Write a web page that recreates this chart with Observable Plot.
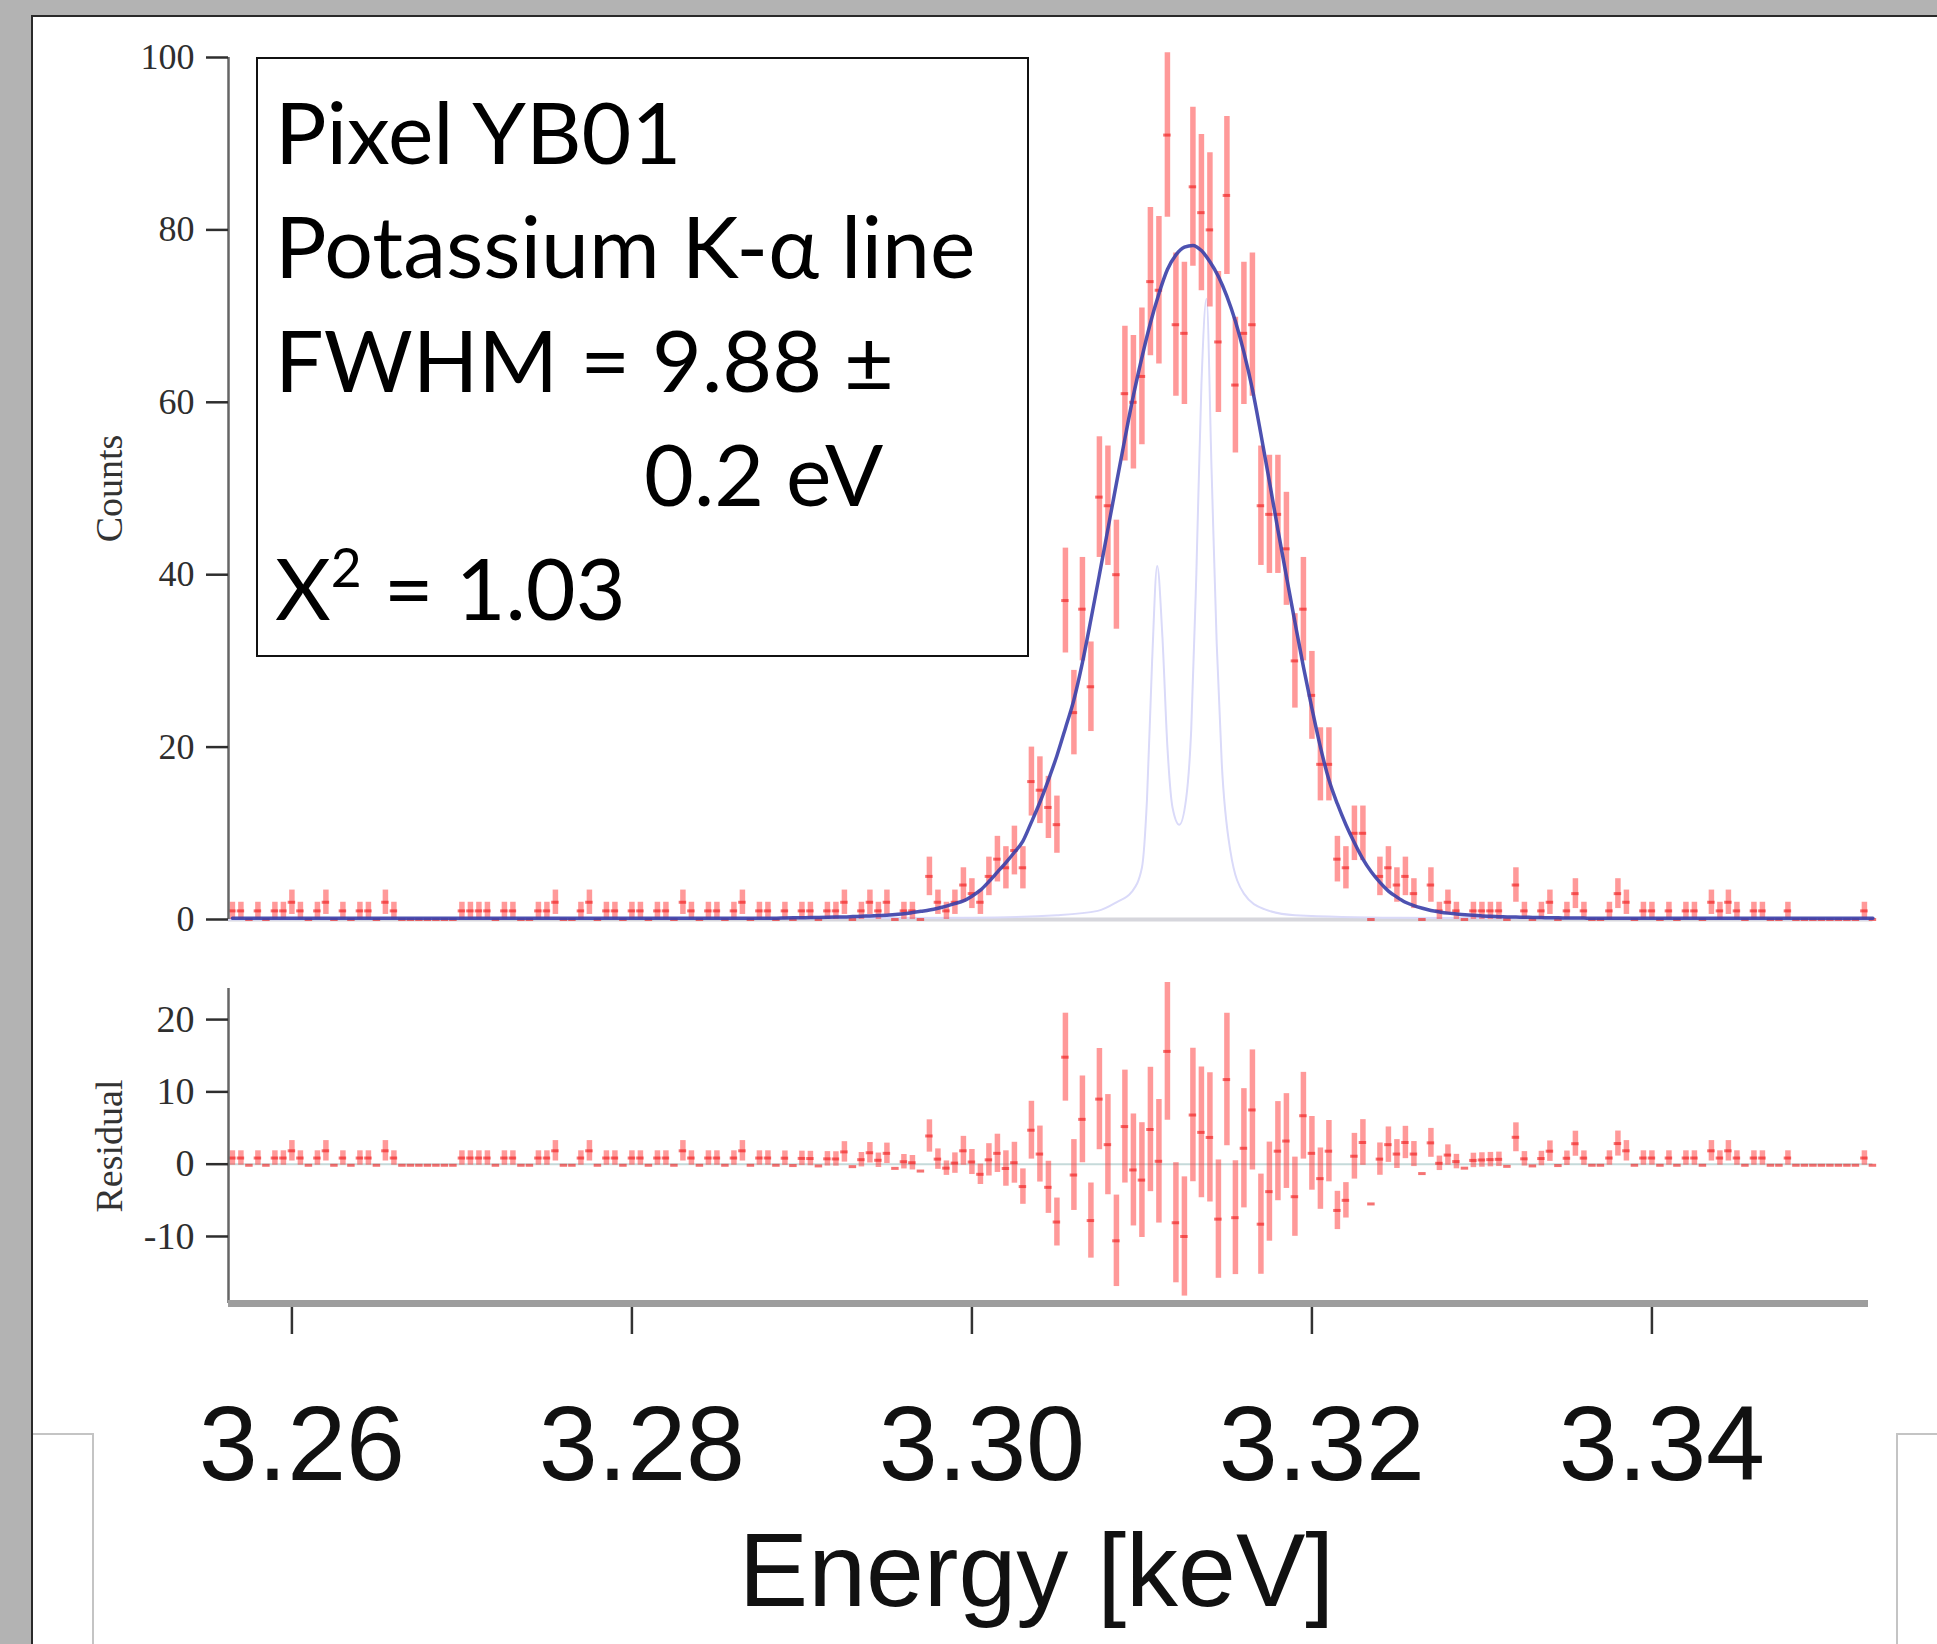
<!DOCTYPE html>
<html>
<head>
<meta charset="utf-8">
<script src="https://cdn.jsdelivr.net/npm/d3@7"></script>
<script src="https://cdn.jsdelivr.net/npm/@observablehq/plot@0.6"></script>
<style>
  html, body { margin: 0; padding: 0; }
  body { width: 1937px; height: 1644px; background: #b3b3b3; position: relative; overflow: hidden; }
  #panel { position: absolute; left: 31px; top: 15px; right: 0; bottom: 0; background: #fff;
           border-left: 2px solid #2a2a2a; border-top: 2px solid #2a2a2a; }
  .ol1 { position: absolute; left: 33px; top: 1433px; width: 59px; height: 300px;
         border-top: 2px solid #c4c4c4; border-right: 2px solid #c4c4c4; }
  .ol2 { position: absolute; left: 1896px; top: 1433px; width: 100px; height: 300px;
         border-top: 2px solid #c4c4c4; border-left: 2px solid #c4c4c4; }
  #topChart, #bottomChart { position: absolute; left: 0; }
  #topChart { top: 0; }
  #bottomChart { top: 940px; }
  #box { position: absolute; left: 256px; top: 57px; width: 773px; height: 600px; box-sizing: border-box;
         border: 2px solid #111; background: #fff; color: #000;
         font-family: Lato, "Open Sans", sans-serif; font-size: 86px; line-height: 114px;
         padding: 14.5px 0 0 17px; white-space: nowrap; }
  #box .indent { padding-left: 369px; }
  #box sup { font-size: 0.62em; line-height: 0; vertical-align: 0.62em; }
</style>
</head>
<body>
<div id="panel"></div>
<div class="ol1"></div>
<div class="ol2"></div>
<div id="topChart"></div>
<div id="bottomChart"></div>
<div id="box">
  <div>Pixel YB01</div>
  <div>Potassium K-α line</div>
  <div>FWHM = 9.88 ±</div>
  <div class="indent">0.2 eV</div>
  <div>X<sup>2</sup> = 1.03</div>
</div>
<script>
// ---- data ----
const binStart = 3.2565;   // keV, centre of first bin
const binWidth = 0.0005;   // keV (0.5 eV bins)

const counts = [
  1,1,0,1,0,1,1,2,1,0, 1,2,0,1,0,1,1,0,2,1, 0,0,0,0,0,0,0,1,1,1, 1,0,1,1,0,0,1,1,2,0,
  0,1,2,0,1,1,0,1,1,0,
  1,1,0,2,1,0,1,1,0,1, 2,0,1,1,0,1,0,1,1,0, 1,1,2,0,1,2,1,2,0,
  1,1,0,5,2,1,2,4,3,2, 5,7,6,8,6,16,15,13,11,37, 24,36,27,49,48,40,61,60,63,74,
  73,91,69,68,85,82,80,67,84,62, 68,69,48,47,47,43,30,36,26,18, 18,7,6,10,10,0,
  5,6,4,5,3,0,4,1,2,1, 0,1,1,1,1,0,4,1,0,1, 2,0,1,3,1,0,0,1,3,2, 0,1,1,0,1,0,1,1,0,2,
  1,2,1,0,1,1,0,0,1,0, 0,0,0,0,0,0,0,1,0
];

const fit = [
  0.15,0.15,0.15,0.15,0.15,0.15,0.15,0.15,0.15,0.15, 0.15,0.15,0.15,0.15,0.15,0.15,0.15,0.15,0.15,0.15,
  0.15,0.15,0.15,0.15,0.15,0.15,0.15,0.15,0.15,0.15, 0.15,0.15,0.15,0.15,0.15,0.15,0.15,0.15,0.15,0.15,
  0.15,0.15,0.15,0.15,0.15,0.15,0.15,0.15,0.15,0.15, 0.15,0.15,0.15,0.15,0.15,0.15,0.15,0.15,0.15,0.15,
  0.15,0.15,0.15,0.15,
  0.15,0.17,0.19,0.2,0.22,0.24,0.26,0.28,0.3,0.34, 0.38,0.42,0.46,0.5,0.58,0.66,0.8,0.95,1.1,1.3,
  1.55,1.85,2.15,2.7,3.4,4.4,5.5,6.6,7.8,9.1, 11.3,13.6,16.2,19,22.2,25.5,29.8,34.8,40,45.3,
  50.6,55.8,60.8,65.2,69.2,72.6,75.4,77.1,78,78.2, 77.6,76.3,74.6,72.3,69.4,65.8,61.5,56.3,50.8,45.2,
  39.8,34.5,29.3,24.5,20,16.2,13.4,11,8.9,7, 5.5,4.3,3.3,2.6,2.0,1.6,1.3,1.05,0.88,0.74,
  0.64,0.55,0.48,0.42,0.37,0.33,0.3,0.28,0.26,0.24, 0.22,0.2,0.19,0.18,0.17,0.16,
  0.15,0.15,0.15,0.15,0.15,0.15,0.15,0.15,0.15,0.15, 0.15,0.15,0.15,0.15,0.15,0.15,0.15,0.15,0.15,0.15,
  0.15,0.15,0.15,0.15,0.15,0.15,0.15,0.15,0.15,0.15, 0.15,0.15,0.15,0.15
];

// intrinsic line shape (K-alpha2 / K-alpha1), light lavender curve
const lavE = [3.2563, 3.3000, 3.3050, 3.3074, 3.3085, 3.3094, 3.3100, 3.3103, 3.3106, 3.3109,
              3.3112, 3.3115, 3.3118, 3.3122, 3.3126, 3.3129, 3.3132, 3.3135, 3.3138, 3.3141,
              3.3144, 3.3147, 3.3152, 3.3160, 3.3172, 3.3190, 3.3250, 3.3530];
const lavV = [0, 0.2, 0.5, 1.0, 2.0, 3.2, 6, 14, 30, 41,
              33, 20, 13, 11, 14, 22, 40, 62, 72, 52,
              32, 18, 8, 3, 1.2, 0.5, 0.2, 0];

const xTicks = [3.26, 3.28, 3.30, 3.32, 3.34];
const countTicks = [0, 20, 40, 60, 80, 100];
const residTicks = [-10, 0, 10, 20];
const xDomain = [3.25627, 3.35274];
const countDomain = [0, 100];
const residDomain = [-19.27, 24.3];

// ---- derived table ----
const bins = counts.map((n, i) => ({
  E: binStart + i * binWidth, n, err: Math.sqrt(n), fit: fit[i], r: n - fit[i]
}));
const lav = lavE.map((E, i) => ({E, v: lavV[i]}));
const lastE = bins[bins.length - 1].E;
const hw = 0.00022;

const red = "#ff2a2a";
const serif = "'Liberation Serif', 'DejaVu Serif', serif";
const sans = "'Liberation Sans', Arial, sans-serif";

const topPlot = Plot.plot({
  width: 1937, height: 940,
  marginLeft: 228, marginRight: 69, marginTop: 57, marginBottom: 21,
  style: {background: "transparent", overflow: "visible"},
  x: {domain: xDomain, axis: null},
  y: {domain: countDomain, axis: null},
  marks: [
    Plot.ruleY([0], {x1: xDomain[0], x2: lastE, stroke: "#d6d6dc", strokeWidth: 4}),
    Plot.line(lav, {x: "E", y: "v", stroke: "#dadaf9", strokeWidth: 2, curve: "monotone-x"}),
    Plot.ruleX(bins, {x: "E", y1: d => d.n - d.err, y2: d => d.n + d.err,
                      stroke: red, strokeOpacity: 0.48, strokeWidth: 5.5}),
    Plot.ruleY(bins, {y: "n", x1: d => d.E - hw, x2: d => d.E + hw,
                      stroke: "#ee1515", strokeOpacity: 0.6, strokeWidth: 3}),
    Plot.line(bins, {x: "E", y: "fit", stroke: "#3a3fa8", strokeOpacity: 0.9, strokeWidth: 3.5, curve: "monotone-x"}),
    Plot.ruleX([xDomain[0]], {y1: countDomain[0], y2: countDomain[1], stroke: "#666", strokeWidth: 2.5}),
    Plot.axisY({ticks: countTicks, tickSize: 22, tickPadding: 12, fontSize: 36, fontFamily: serif,
                color: "#2e2e2e", strokeWidth: 2.5, label: null}),
    Plot.text(["Counts"], {text: d => d, frameAnchor: "left", textAnchor: "middle", dx: -119, rotate: -90,
                           fontSize: 38, fontFamily: serif, fill: "#333"})
  ]
});
document.getElementById("topChart").append(topPlot);

const bottomPlot = Plot.plot({
  width: 1937, height: 704,
  marginLeft: 228, marginRight: 69, marginTop: 48, marginBottom: 341,
  style: {background: "transparent", overflow: "visible"},
  x: {domain: xDomain, axis: null},
  y: {domain: residDomain, axis: null},
  marks: [
    Plot.ruleY([0], {x1: xDomain[0], x2: lastE, stroke: "#c6dada", strokeWidth: 2}),
    Plot.ruleX(bins, {x: "E", y1: d => d.r - d.err, y2: d => d.r + d.err,
                      stroke: red, strokeOpacity: 0.48, strokeWidth: 5.5}),
    Plot.ruleY(bins, {y: "r", x1: d => d.E - hw, x2: d => d.E + hw,
                      stroke: "#ee1515", strokeOpacity: 0.6, strokeWidth: 3}),
    Plot.axisX({ticks: xTicks, tickSize: 31, tickFormat: () => "", stroke: "#333", strokeWidth: 2.5, label: null}),
    Plot.ruleX([xDomain[0]], {y1: residDomain[0], y2: residDomain[1], stroke: "#666", strokeWidth: 2.5}),
    Plot.ruleY([residDomain[0]], {x1: xDomain[0], x2: xDomain[1], stroke: "#9d9d9d", strokeWidth: 7}),
    Plot.axisY({ticks: residTicks, tickSize: 22, tickPadding: 12, fontSize: 38, fontFamily: serif,
                tickFormat: d => String(d), color: "#2e2e2e", strokeWidth: 2.5, label: null}),
    Plot.text(xTicks, {x: d => d, text: d => d.toFixed(2), frameAnchor: "bottom", dy: 176, dx: 10,
                       fontSize: 106, fontFamily: sans, fill: "#111"}),
    Plot.text(["Energy [keV]"], {text: d => d, frameAnchor: "bottom", dy: 302, dx: -12, fontSize: 104,
                                 fontFamily: sans, fill: "#111"}),
    Plot.text(["Residual"], {text: d => d, frameAnchor: "left", textAnchor: "middle", dx: -119, rotate: -90,
                             fontSize: 38, fontFamily: serif, fill: "#333"})
  ]
});
document.getElementById("bottomChart").append(bottomPlot);
</script>
</body>
</html>
